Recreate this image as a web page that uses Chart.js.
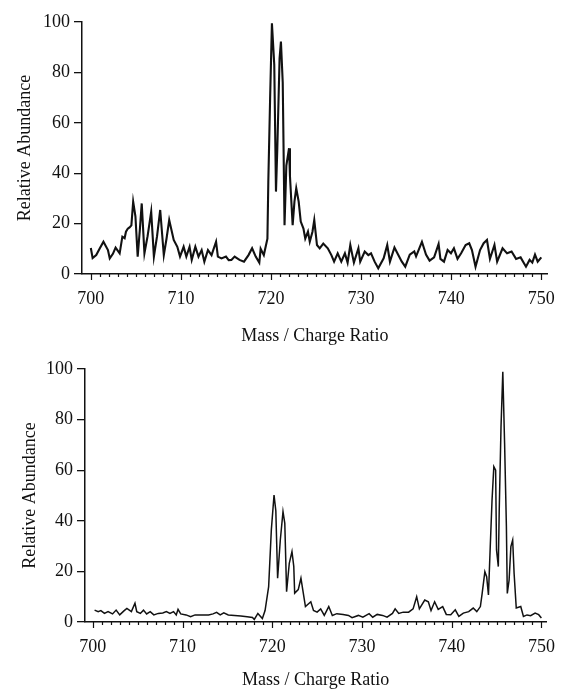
<!DOCTYPE html>
<html>
<head>
<meta charset="utf-8">
<script src="https://cdn.jsdelivr.net/npm/chart.js@4/dist/chart.umd.min.js"></script>
<style>
  html, body { margin: 0; padding: 0; background: #fff; }
  #wrap { position: relative; width: 569px; height: 691px; }
  #c1 { position: absolute; left: 0; top: 0; }
  #c2 { position: absolute; left: 0; top: 347px; }
</style>
</head>
<body>
<div id="wrap">
  <canvas id="c1" width="569" height="347"></canvas>
  <canvas id="c2" width="569" height="344"></canvas>
</div>
<script>
// ---- Data ----
const xTickLabels = [700, 710, 720, 730, 740, 750];
const yTickLabels = [0, 20, 40, 60, 80, 100];
const xTitle = "Mass / Charge Ratio";
const yTitle = "Relative Abundance";

const mzTop = [700.0,700.2,700.6,701.0,701.4,701.9,702.1,702.45,702.75,703.2,703.5,703.75,703.9,704.1,704.3,704.5,704.7,704.95,705.2,705.45,705.65,705.95,706.3,706.7,707.0,707.35,707.7,708.1,708.4,708.7,709.2,709.6,709.9,710.3,710.6,710.96,711.2,711.6,711.95,712.3,712.6,713.0,713.4,713.9,714.1,714.5,715.0,715.3,715.6,715.96,716.5,717.0,717.5,717.9,718.3,718.7,718.85,719.2,719.6,719.7,719.9,720.1,720.36,720.55,720.7,720.95,721.1,721.3,721.5,721.7,722.0,722.1,722.4,722.6,722.8,723.07,723.3,723.6,723.8,724.1,724.3,724.6,724.8,725.1,725.4,725.8,726.3,726.7,727.0,727.4,727.8,728.2,728.5,728.8,729.2,729.7,729.9,730.4,730.8,731.1,731.5,731.9,732.5,732.9,733.2,733.7,734.1,734.5,734.9,735.4,735.9,736.1,736.75,737.2,737.6,738.1,738.6,738.8,739.2,739.6,739.97,740.3,740.7,741.1,741.6,742.0,742.3,742.7,743.2,743.6,743.97,744.3,744.8,745.1,745.7,746.2,746.7,747.2,747.7,748.3,748.7,749.0,749.3,749.6,750.0];
const abTop = [10.3,6.3,7.5,10.2,12.8,9.5,6.2,8,10.5,8.2,14.8,14.2,16.8,18,18.5,19.3,28.7,22.9,6.9,18,28,8.2,15,24.7,6.9,15,25.4,7.5,14,21.4,13.5,10.8,6.9,10.8,6.9,10.8,5.6,10.8,6.9,9.5,4.9,9.5,7.5,12.8,6.9,6.2,6.9,5.5,5.6,6.9,5.6,4.9,7.5,10.2,6.9,4.5,10,7.5,14,36.6,69.7,99.5,83,32.7,50,85.6,92.2,76,19.4,43,49.9,39,19.4,28.7,34,28.7,20.8,18,14,16.8,12.8,16.8,21.4,11.5,10.2,12.1,10.2,7.5,4.9,8.2,4.9,8.2,4.5,11.5,4.5,10.2,4.9,8.9,7.5,8.2,4.9,2.3,6.2,11.5,4.9,10.5,7.7,5,2.9,7.7,9.0,7.0,12.8,7.7,5.3,6.6,11.9,6.0,4.9,9.5,8.2,10.2,6.0,8.2,11.5,12.2,9.5,2.9,9.5,12.2,13.5,6.0,11.5,4.9,10.2,8.2,8.9,6.0,6.6,2.9,5.6,4.5,7.7,4.9,6.6];

const mzBottom = [700.2,700.6,700.9,701.3,701.7,702.2,702.6,703.0,703.5,703.8,704.3,704.7,704.9,705.3,705.65,706.0,706.4,706.8,707.3,707.8,708.2,708.6,709.0,709.3,709.5,709.8,710.4,710.9,711.4,712.2,712.9,713.4,713.8,714.2,714.6,715.1,715.8,716.5,717.2,717.8,718.0,718.4,718.9,719.2,719.6,719.9,720.2,720.4,720.6,720.9,721.2,721.4,721.6,721.9,722.2,722.4,722.5,722.9,723.2,723.4,723.7,724.3,724.6,725.0,725.4,725.8,726.3,726.7,727.2,727.9,728.5,728.9,729.6,730.1,730.8,731.2,731.7,732.3,732.8,733.4,733.7,734.1,734.6,735.2,735.7,736.1,736.4,737.0,737.4,737.7,738.1,738.5,739.0,739.4,739.9,740.4,740.8,741.3,741.9,742.4,742.8,743.2,743.4,743.7,743.9,744.1,744.3,744.5,744.7,744.9,745.0,745.2,745.3,745.5,745.7,745.9,746.1,746.2,746.4,746.6,746.8,746.96,747.2,747.7,748.0,748.4,748.8,749.3,749.7,750.0];
const abBottom = [4.7,4.1,4.5,3.4,4.1,3.2,4.7,2.8,4.5,5.4,4.1,7.4,4.1,3.4,4.7,3.2,4.1,2.8,3.4,3.6,4.1,3.4,4.1,2.8,5.0,3.2,2.8,2.1,2.8,2.8,2.8,3.2,3.8,2.8,3.6,2.8,2.6,2.4,2.1,1.8,1.0,3.4,1.4,4.5,14,36.4,50.2,44,17.3,32.4,43.6,39,12,23.2,27.8,22,11.4,12.8,17.3,12.8,6.1,8.0,4.6,3.9,5.2,2.6,6.1,2.6,3.3,3.0,2.6,1.7,2.6,1.9,3.3,1.9,3.0,2.6,1.9,3.4,5.2,3.4,3.9,3.9,5.2,10,5.2,8.7,8.0,4.5,8.0,5.0,6.1,3.0,2.9,4.8,2.2,3.5,4.1,5.5,4.1,6.1,11.3,19.9,17.9,10.7,29.8,48.2,61.4,60,28.5,21.9,44,77.2,98.9,70.6,37.7,11.3,16.5,29.8,32.4,19.2,5.5,6.1,2.2,2.8,2.5,3.5,2.9,1.6];

// ---- Chart construction ----
const FONT = "'Liberation Serif', 'Times New Roman', serif";

const xMinorTicks = {
  id: 'xMinorTicks',
  afterDraw(chart) {
    const xs = chart.scales.x;
    const ctx = chart.ctx;
    const y0 = chart.chartArea.bottom;
    ctx.save();
    ctx.strokeStyle = '#111';
    ctx.lineWidth = 1.2;
    ctx.beginPath();
    for (let m = xTickLabels[0]; m <= xTickLabels[xTickLabels.length - 1]; m++) {
      const px = Math.round(xs.getPixelForValue(m)) + 0.5;
      const len = (m % 10 === 0) ? 6 : 3;
      ctx.moveTo(px, y0);
      ctx.lineTo(px, y0 + len);
    }
    ctx.stroke();
    ctx.restore();
  }
};

function makeChart(id, mz, ab, cfg) {
  const pts = mz.map((m, i) => ({ x: m, y: ab[i] }));
  return new Chart(document.getElementById(id), {
    type: 'line',
    data: { datasets: [{ data: pts, borderColor: '#111', borderWidth: cfg.lw, pointRadius: 0, tension: 0, fill: false }] },
    options: {
      responsive: false,
      animation: false,
      events: [],
      layout: { padding: { left: 0, top: cfg.top, right: cfg.right, bottom: 0 } },
      plugins: { legend: { display: false }, tooltip: { enabled: false } },
      scales: {
        x: {
          type: 'linear',
          min: cfg.xmin, max: cfg.xmax,
          afterBuildTicks: (s) => { s.ticks = xTickLabels.map(v => ({ value: v })); },
          afterFit: (s) => { s.height = cfg.xh; },
          grid: { display: false, drawTicks: false },
          border: { display: true, color: '#111', width: 1.5 },
          ticks: { color: '#111', padding: 14, maxRotation: 0, autoSkip: false, font: { family: FONT, size: 18 } },
          title: { display: true, text: xTitle, color: '#111', padding: { top: 0, bottom: 0 }, font: { family: FONT, size: 18 } }
        },
        y: {
          min: 0, max: 100,
          afterBuildTicks: (s) => { s.ticks = yTickLabels.map(v => ({ value: v })); },
          afterFit: (s) => { s.width = cfg.yw; },
          grid: { display: true, drawOnChartArea: false, drawTicks: true, tickLength: 8, color: '#111', lineWidth: 1.3 },
          border: { display: true, color: '#111', width: 1.5 },
          ticks: { color: '#111', padding: 4, font: { family: FONT, size: 18 } },
          title: { display: true, text: yTitle, color: '#111', padding: { top: cfg.ytp, bottom: 0 }, font: { family: FONT, size: 18 } }
        }
      }
    },
    plugins: [xMinorTicks]
  });
}

makeChart('c1', mzTop, abTop, { lw: 2.1, top: 22, right: 14, xmin: 699.02, xmax: 750.71, xh: 73, yw: 82, ytp: 14 });
makeChart('c2', mzBottom, abBottom, { lw: 1.5, top: 22, right: 11, xmin: 699.13, xmax: 750.54, xh: 69, yw: 85, ytp: 19 });
</script>
</body>
</html>
